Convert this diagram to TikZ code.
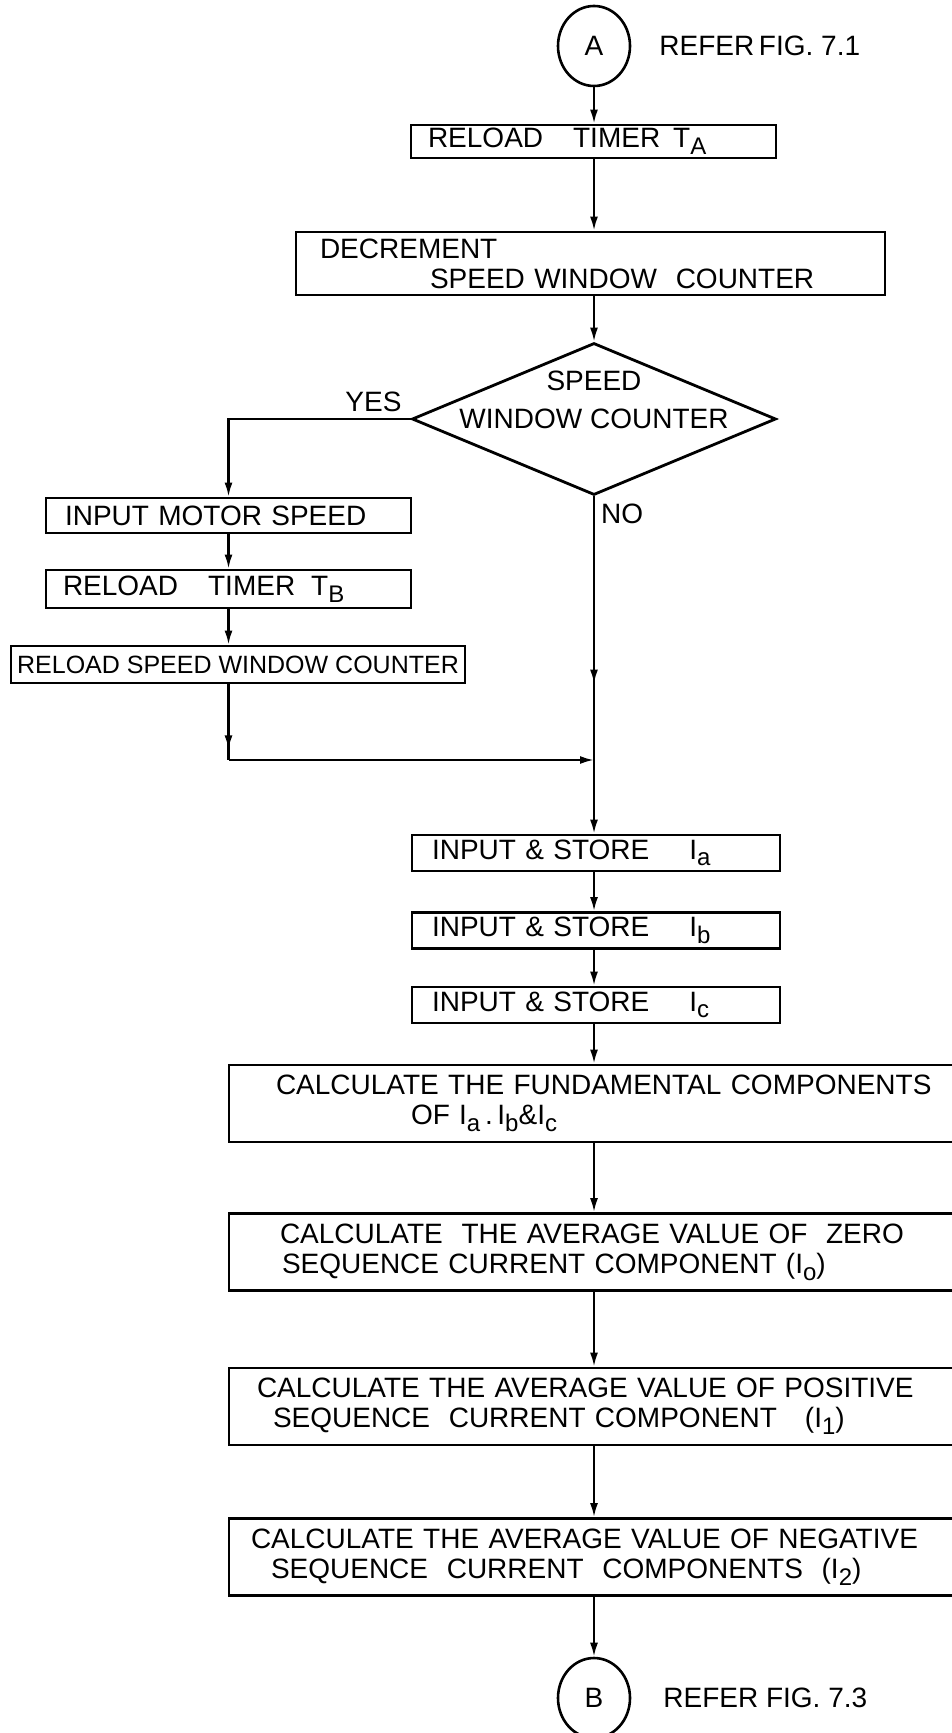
\documentclass[tikz,border=0pt]{standalone}
\usepackage{fontspec}
\setmainfont{Liberation Sans}
\usetikzlibrary{arrows.meta, shapes.geometric, decorations.markings}
\newcommand{\sbs}[1]{\raisebox{-0.45ex}{\fontsize{12}{12}\selectfont #1}}
\tikzset{
  every picture/.style={line width=1.1pt},
  stepbox/.style={draw, rectangle, line width=1.4pt, inner ysep=1pt, align=left, font=\fontsize{14}{15}\selectfont},
  bigbox/.style={stepbox, minimum height=38.5pt, text width=400pt-2*#1, inner xsep=#1},
  conn/.style={draw, ellipse, line width=1.3pt, minimum width=36pt, minimum height=40pt, inner sep=0pt, font=\fontsize{14}{15}\selectfont},
  dia/.style={draw, diamond, line width=1.4pt, minimum width=182pt, minimum height=76pt, inner sep=0pt},
  lbl/.style={font=\fontsize{14}{15}\selectfont, inner sep=1pt},
  arrow/.style={-{Latex[length=7pt,width=4pt]}},
  midarrow/.style={postaction={decorate}, decoration={markings, mark=at position #1 with {\arrow{Latex[length=7pt,width=4pt]}}}},
}

\begin{document}
\begin{tikzpicture}[x=0.5pt, y=-0.5pt]
  \useasboundingbox (0,0) rectangle (952,1733);
  \clip (0,0) rectangle (952,1733);
  % ---------- top part ----------
  \node[conn] (A) at (594,46) {A};
  \node[lbl, anchor=west] (refA) at ([xshift=12.5pt]A.east) {REFER\,FIG. 7.1};
  \node[stepbox, minimum height=16.5pt, text width=165.5pt, inner xsep=8.5pt] (rta) at (593.5,141.5) {RELOAD\hspace{15pt}TIMER\hspace{6.5pt}T\sbs{A}};
  \node[stepbox, minimum height=31.5pt, text width=270.5pt, inner xsep=12pt] (dec) at (590.5,263.5) {DECREMENT\\\hspace*{55pt}SPEED WINDOW\ \ COUNTER};
  \node[dia] (dia) at (594,419) {};
  \node[lbl, align=center] (diatext) at (594,400) {SPEED\\[4pt]WINDOW COUNTER};
  \node[lbl, anchor=south east] (yes) at ([xshift=-3pt, yshift=2pt]dia.west) {YES};
  \node[lbl, anchor=north west] (no) at ([xshift=2pt, yshift=-2pt]dia.south) {NO};
  % ---------- yes branch ----------
  \node[stepbox, minimum height=17.5pt, text width=163.5pt, inner xsep=9.5pt] (ims) at (228.5,515.5) {INPUT MOTOR SPEED};
  \node[stepbox, minimum height=19pt, text width=165.5pt, inner xsep=8.5pt] (rtb) at (228.5,589) {RELOAD\hspace{15pt}TIMER\hspace{8pt}T\sbs{B}};
  \node[stepbox, minimum height=18.5pt, minimum width=227pt, inner xsep=2pt, align=center, font=\fontsize{12.5}{14}\selectfont] (rswc) at (238,664.5) {RELOAD SPEED WINDOW COUNTER};
  \coordinate (merge) at (594,760);
  \coordinate (corner) at (228.5,760);
  % ---------- input currents ----------
  \node[stepbox, minimum height=18pt, text width=164pt, inner xsep=10pt] (Ia) at (596,853) {INPUT \& STORE\hspace{20pt}I\sbs{a}};
  \node[stepbox, minimum height=18pt, text width=164pt, inner xsep=10pt] (Ib) at (596,930.5) {INPUT \& STORE\hspace{20pt}I\sbs{b}};
  \node[stepbox, minimum height=18pt, text width=164pt, inner xsep=10pt] (Ic) at (596,1005) {INPUT \& STORE\hspace{20pt}I\sbs{c}};
  % ---------- calculations ----------
  \node[bigbox=23.5pt] (fund) at (629,1103.5) {CALCULATE THE FUNDAMENTAL COMPONENTS\\\hspace*{67.5pt}OF I\sbs{a}\,.\,I\sbs{b}\&I\sbs{c}};
  \node[bigbox=25.5pt] (zero) at (629,1252) {CALCULATE\ \ THE AVERAGE VALUE OF\ \ ZERO\\\hspace*{1pt}SEQUENCE CURRENT COMPONENT (I\sbs{o})};
  \node[bigbox=14pt] (pos) at (629,1406.5) {CALCULATE THE AVERAGE VALUE OF POSITIVE\\\hspace*{8pt}SEQUENCE\ \ CURRENT COMPONENT\ \ \ (I\sbs{1})};
  \node[bigbox=11pt] (neg) at (629,1557) {CALCULATE THE AVERAGE VALUE OF NEGATIVE\\\hspace*{10pt}SEQUENCE\ \ CURRENT\ \ COMPONENTS\ \ (I\sbs{2})};
  \node[conn] (B) at (594,1698) {B};
  \node[lbl, anchor=west] (refB) at ([xshift=14.5pt]B.east) {REFER FIG. 7.3};
  % ---------- connectors ----------
  \draw[arrow] (A.south) -- (A |- rta.north);
  \draw[arrow] (A |- rta.south) -- (A |- dec.north);
  \draw[arrow] (A |- dec.south) -- (dia.north);
  \draw[arrow] (dia.west) -| (ims.north);
  \draw[arrow] (ims.south) -- (rtb.north);
  \draw[arrow] (rtb.south) -- (rtb.south |- rswc.north);
  \draw[midarrow=0.86] (ims |- rswc.south) -- (corner);
  \draw[arrow] (corner) -- (merge);
  \draw[midarrow=0.71] (dia.south) -- (merge);
  \draw[arrow] (merge) -- (A |- Ia.north);
  \draw[arrow] (A |- Ia.south) -- (A |- Ib.north);
  \draw[arrow] (A |- Ib.south) -- (A |- Ic.north);
  \draw[arrow] (A |- Ic.south) -- (A |- fund.north);
  \draw[arrow] (A |- fund.south) -- (A |- zero.north);
  \draw[arrow] (A |- zero.south) -- (A |- pos.north);
  \draw[arrow] (A |- pos.south) -- (A |- neg.north);
  \draw[arrow] (A |- neg.south) -- (B.north);
\end{tikzpicture}
\end{document}
